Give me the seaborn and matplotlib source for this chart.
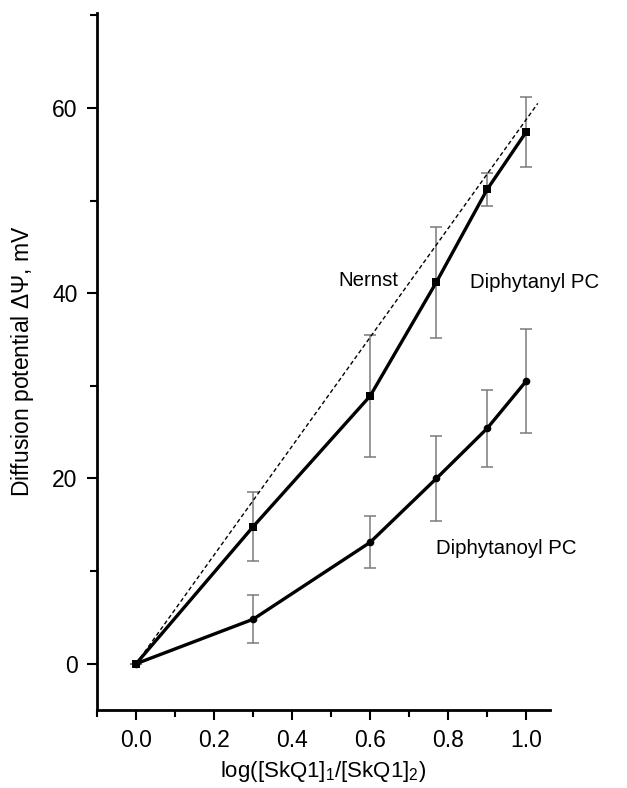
import numpy as np
import pandas as pd
import seaborn as sns
import matplotlib.pyplot as plt
from matplotlib.ticker import MultipleLocator

# data
log_ratio = [0.0, 0.3, 0.6, 0.77, 0.9, 1.0]
dpc_ether = [0.0, 14.8, 28.9, 41.2, 51.2, 57.4]      # Diphytanyl PC
dpc_ether_err = [0.0, 3.7, 6.6, 6.0, 1.8, 3.8]
dpc_ester = [0.0, 4.8, 13.1, 20.0, 25.4, 30.5]       # Diphytanoyl PC
dpc_ester_err = [0.0, 2.6, 2.8, 4.6, 4.2, 5.6]
nernst_x = [0.0, 1.03]
nernst_y = [0.0, 60.5]

sns.set_style("ticks")
plt.rcParams["font.family"] = ["Liberation Sans", "DejaVu Sans"]
plt.rcParams["mathtext.fontset"] = "custom"
plt.rcParams["mathtext.rm"] = "Liberation Sans"
plt.rcParams["mathtext.it"] = "Liberation Sans"
plt.rcParams["text.color"] = "black"
plt.rcParams["axes.labelcolor"] = "black"
plt.rcParams["xtick.color"] = "black"
plt.rcParams["ytick.color"] = "black"
plt.rcParams["axes.edgecolor"] = "black"

fig = plt.figure(figsize=(6.27, 7.88), dpi=100)
ax = fig.add_axes([0.155, 0.099, 0.722, 0.885])

df = pd.DataFrame({"x": log_ratio * 2,
                   "y": dpc_ether + dpc_ester,
                   "lipid": ["Diphytanyl PC"] * 6 + ["Diphytanoyl PC"] * 6})

ax.errorbar(log_ratio, dpc_ether, yerr=dpc_ether_err, fmt="none", ecolor="#7a7a7a",
            elinewidth=1.1, capsize=4, capthick=1.1, zorder=2)
ax.errorbar(log_ratio, dpc_ester, yerr=dpc_ester_err, fmt="none", ecolor="#7a7a7a",
            elinewidth=1.1, capsize=4, capthick=1.1, zorder=2)

ax.plot(nernst_x, nernst_y, color="black", lw=1.0, ls=(0, (3, 2)), zorder=3)

sns.lineplot(data=df, x="x", y="y", hue="lipid", style="lipid",
             markers={"Diphytanyl PC": "s", "Diphytanoyl PC": "o"},
             dashes=False, palette={"Diphytanyl PC": "black", "Diphytanoyl PC": "black"},
             linewidth=2.4, markersize=5.5, markeredgewidth=0, legend=False, ax=ax, zorder=4)

ax.text(0.595, 41.4, "Nernst", fontsize=14.7, ha="center", va="center")
ax.text(0.855, 41.2, "Diphytanyl PC", fontsize=14.7, ha="left", va="center")
ax.text(0.77, 12.4, "Diphytanoyl PC", fontsize=14.7, ha="left", va="center")

ax.set_xlim(-0.1, 1.061)
ax.set_ylim(-5, 70.3)
ax.set_xticks([0.0, 0.2, 0.4, 0.6, 0.8, 1.0])
ax.set_xticklabels(["0.0", "0.2", "0.4", "0.6", "0.8", "1.0"])
ax.set_yticks([0, 20, 40, 60])
ax.xaxis.set_minor_locator(MultipleLocator(0.1))
ax.yaxis.set_minor_locator(MultipleLocator(10))
ax.tick_params(which="major", direction="out", length=7, width=1.5, labelsize=16.5, pad=7)
ax.tick_params(which="minor", direction="out", length=5, width=1.5)

ax.set_xlabel("log([SkQ1]$_1$/[SkQ1]$_2$)", fontsize=16, labelpad=5)
ax.set_ylabel("Diffusion potential $\\Delta\\Psi$, mV", fontsize=16.5, labelpad=12)

sns.despine(ax=ax)
for side in ["left", "bottom"]:
    ax.spines[side].set_linewidth(2)

fig.savefig("out.png", dpi=100)
